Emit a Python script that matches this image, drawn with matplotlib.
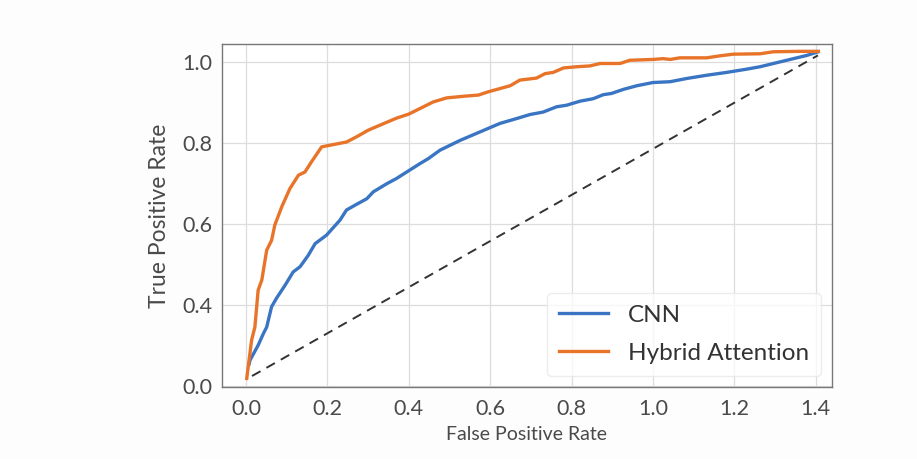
import matplotlib
matplotlib.use("Agg")
import matplotlib.pyplot as plt

plt.rcParams['font.family'] = ['Lato', 'DejaVu Sans']

# values (y is in plotted position units; the
# bottom tick sits at 0.2 but is labelled "0.0" as in the picture)
cnn_fpr = [0.008, 0.010, 0.030, 0.043, 0.051, 0.063, 0.075, 0.096, 0.116, 0.133,
           0.153, 0.170, 0.198, 0.231, 0.247, 0.268, 0.297, 0.313, 0.346, 0.370,
           0.395, 0.428, 0.448, 0.477, 0.526, 0.575, 0.624, 0.665, 0.698, 0.73,
           0.763, 0.788, 0.821, 0.853, 0.878, 0.898, 0.927, 0.96, 1.0, 1.042,
           1.083, 1.132, 1.181, 1.23, 1.263, 1.304, 1.345, 1.378, 1.406]
cnn_tpr = [0.255, 0.264, 0.301, 0.33, 0.346, 0.396, 0.417, 0.449, 0.482, 0.495,
           0.523, 0.552, 0.573, 0.61, 0.635, 0.647, 0.663, 0.68, 0.70, 0.713,
           0.729, 0.75, 0.762, 0.783, 0.807, 0.828, 0.849, 0.861, 0.871, 0.877,
           0.89, 0.894, 0.904, 0.910, 0.92, 0.923, 0.933, 0.942, 0.95, 0.952,
           0.96, 0.968, 0.975, 0.983, 0.989, 0.999, 1.009, 1.017, 1.026]

hyb_fpr = [0.002, 0.014, 0.022, 0.030, 0.039, 0.051, 0.063, 0.071, 0.088, 0.108,
           0.129, 0.145, 0.161, 0.186, 0.206, 0.247, 0.272, 0.30, 0.33, 0.37,
           0.40, 0.428, 0.46, 0.493, 0.534, 0.571, 0.595, 0.649, 0.673, 0.714,
           0.735, 0.755, 0.78, 0.813, 0.845, 0.87, 0.919, 0.943, 1.0, 1.025,
           1.042, 1.066, 1.132, 1.165, 1.197, 1.263, 1.296, 1.361, 1.406]
hyb_tpr = [0.219, 0.314, 0.346, 0.437, 0.462, 0.536, 0.56, 0.598, 0.643, 0.688,
           0.721, 0.729, 0.754, 0.791, 0.795, 0.803, 0.816, 0.832, 0.845, 0.862,
           0.872, 0.886, 0.902, 0.912, 0.916, 0.919, 0.927, 0.942, 0.956, 0.961,
           0.972, 0.975, 0.986, 0.989, 0.991, 0.997, 0.997, 1.005, 1.007, 1.009,
           1.007, 1.011, 1.011, 1.016, 1.02, 1.021, 1.026, 1.027, 1.027]

chance_x = [0.015, 1.405]
chance_y = [0.225, 1.017]

xticks = [0.0, 0.2, 0.4, 0.6, 0.8, 1.0, 1.2, 1.4]
yticks = [0.2, 0.4, 0.6, 0.8, 1.0]
ytick_labels = ['0.0', '0.4', '0.6', '0.8', '1.0']

fig = plt.figure(figsize=(9.17, 4.59), dpi=100, facecolor='#fdfdfd')
ax = fig.add_axes([0.242, 0.157, 0.665, 0.747])

ax.plot(cnn_fpr, cnn_tpr, color='#3a75c4', lw=2.4, label='CNN')
ax.plot(hyb_fpr, hyb_tpr, color='#e8742a', lw=2.4, label='Hybrid Attention')
ax.plot(chance_x, chance_y, color='#333333', lw=1.4, ls=(0, (5, 3.5)))

ax.set_xlim(-0.059, 1.439)
ax.set_ylim(0.198, 1.045)
ax.set_xticks(xticks)
ax.set_xticklabels([f'{t:.1f}' for t in xticks])
ax.set_yticks(yticks)
ax.set_yticklabels(ytick_labels)

ax.grid(True, color='#dddddd', lw=0.9)
ax.set_axisbelow(True)
for s in ax.spines.values():
    s.set_color('#777777')
    s.set_linewidth(1.0)
ax.tick_params(length=0, labelsize=15.5, labelcolor='#4a4a4a')
ax.tick_params(axis='x', pad=9)
ax.tick_params(axis='y', pad=7)

ax.set_xlabel('False Positive Rate', fontsize=14, color='#4a4a4a', labelpad=5)
ax.set_ylabel('True Positive Rate', fontsize=16.5, color='#4a4a4a', labelpad=9)

leg = ax.legend(loc='lower right', fontsize=17.5, frameon=True, framealpha=0.75,
                edgecolor='#e6e6e6', fancybox=True, borderpad=0.5,
                labelspacing=0.7, handlelength=2.0, borderaxespad=0.45)
for t in leg.get_texts():
    t.set_color('#333333')

fig.savefig('out.png', dpi=100, facecolor=fig.get_facecolor())
